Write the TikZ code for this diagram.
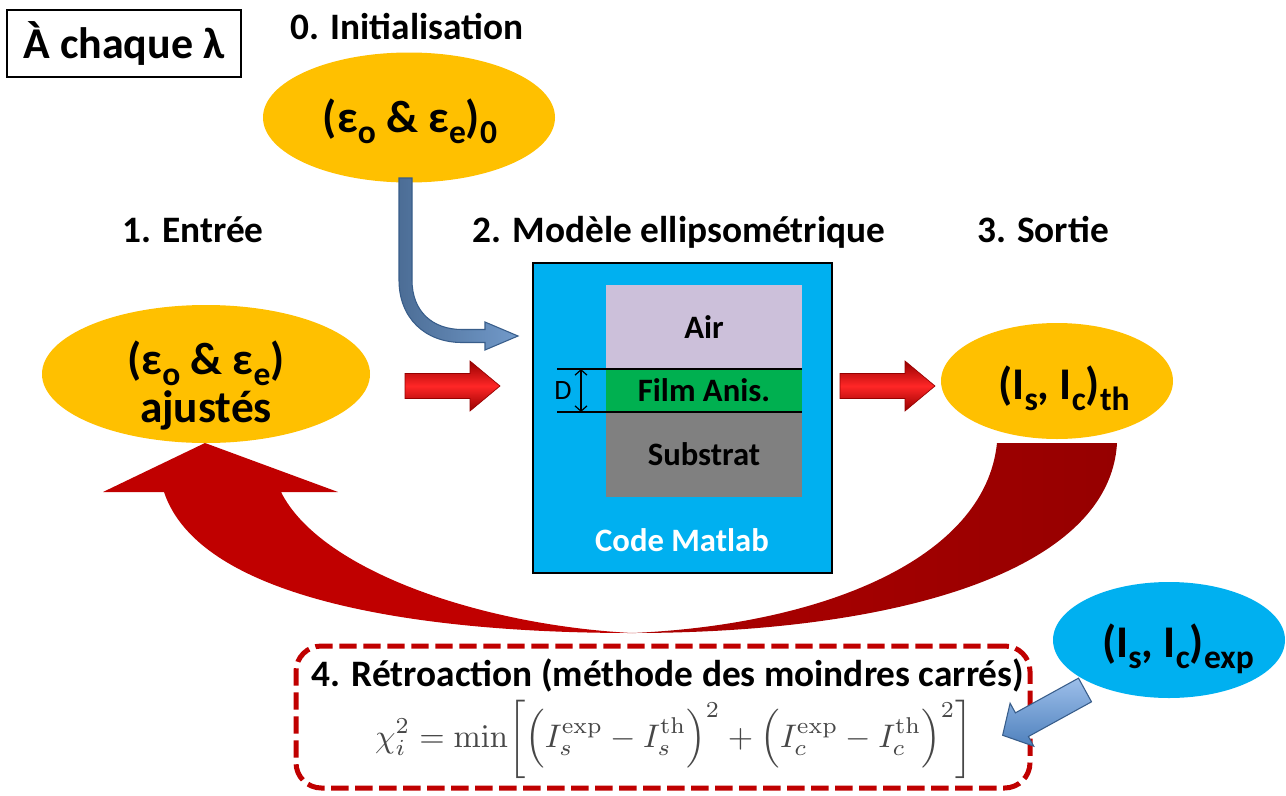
\documentclass[tikz,border=0pt]{standalone}
\usepackage{amsmath}
\usepackage{graphicx}
\usepackage[no-math]{fontspec}
\setmainfont{Carlito}
\usetikzlibrary{shapes.geometric,arrows.meta,calc}
\definecolor{orng}{HTML}{FFC000}
\definecolor{cyanb}{HTML}{00B0F0}
\definecolor{airc}{HTML}{CCC0DA}
\definecolor{filmc}{HTML}{00B050}
\definecolor{subc}{HTML}{808080}
\definecolor{dred}{HTML}{C00000}
\definecolor{ddred}{HTML}{960000}
\definecolor{bluea}{HTML}{4F81BD}
\definecolor{blueb}{HTML}{385D8A}
\definecolor{bluec}{HTML}{9DBFEA}
\newcommand\blockarr[6]{\path[#1] (#2) ++(0,#4) -- ++({#3-#6},0) -- ++(0,{#5-#4}) -- ++(#6,{-#5}) -- ++({-#6},{-#5}) -- ++(0,{#5-#4}) -- ++({#6-#3},0) -- cycle;}
\newcommand\sbs[1]{\raisebox{-0.24em}{\scalebox{0.74}{#1}}}
\begin{document}
\begin{tikzpicture}[x=0.75pt,y=-0.75pt,
  ellbase/.style={ellipse, inner sep=0pt, outer sep=0pt},
  elltext/.style={font=\fontsize{34}{40}\selectfont\bfseries, align=center, inner sep=0pt},
  head/.style={font=\fontsize{28}{32}\selectfont\bfseries, inner sep=0pt, anchor=base},
  layer/.style={rectangle, inner sep=0pt, outer sep=0pt, minimum width=147pt, font=\fontsize{24.5}{28}\selectfont\bfseries, anchor=north},
  redarr/.style={top color=ddred, bottom color=ddred, middle color=red!85!white, draw=ddred, line width=0.5pt},
  bluearr/.style={left color=blueb!90!white, right color=bluea!80!white, draw=blueb, line width=0.8pt},
  bluearrb/.style={top color=bluec, bottom color=bluea, draw=blueb, line width=0.8pt},
  dimarr/.style={{Straight Barb[length=4pt,width=9pt]}-{Straight Barb[length=4pt,width=9pt]}, line width=0.9pt},
  thinline/.style={line width=1.1pt}
]
\fill[white] (0,0) rectangle (1286,796);
\useasboundingbox (0,0) rectangle (1286,796);

% big feedback arrow
\fill[dred] (632,633) .. controls (420,633) and (200,600) .. (164,492) -- (103,492) -- (205,443) -- (338,492) -- (281,492) .. controls (320,570) and (480,625) .. (632,633) -- cycle;
\path[left color=dred!90!black, right color=ddred] (632,633) .. controls (820,625) and (985,560) .. (997,443) -- (1117,443) .. controls (1110,570) and (900,633) .. (632,633) -- cycle;

% corner box
\node[draw, line width=1pt, minimum width=175.5pt, minimum height=50.25pt, inner sep=0pt, font=\fontsize{33}{38}\selectfont\bfseries] (lam) at (124,43.5) {À chaque λ};

% headings
\node[head] (h0) at (407,40) {0. Initialisation};
\node[head] (h1) at (193,242) {1. Entrée};
\node[head] (h2) at (679,242) {2. Modèle ellipsométrique};
\node[head] (h3) at (1043,242) {3. Sortie};

% ellipses
\node[ellbase, fill=orng, minimum width=219pt, minimum height=97.5pt] (ini) at (409,117.5) {};
\node[elltext] (init) at (410,121) {(ε\sbs{o} \& ε\sbs{e})\sbs{0}};
\node[ellbase, fill=orng, minimum width=246pt, minimum height=103.5pt] (ent) at (206,374) {};
\node[elltext] (entt) at (206,386) {(ε\sbs{o} \& ε\sbs{e})\\[-4pt]ajustés};
\node[ellbase, fill=orng, minimum width=174pt, minimum height=87pt] (th) at (1057,381) {};
\node[elltext] (tht) at (1064,388) {(I\sbs{s}, I\sbs{c})\sbs{th}};
\node[ellbase, fill=cyanb, minimum width=174pt, minimum height=87pt] (ex) at (1169,640) {};
\node[elltext] (ext) at (1178,649) {(I\sbs{s}, I\sbs{c})\sbs{exp}};

% model box
\node[draw, fill=cyanb, line width=2.2pt, minimum width=224.25pt, minimum height=232.5pt, inner sep=0pt] (model) at (682.5,418) {};
\node[layer, fill=airc, minimum height=63pt] (air) at (704,285) {Air};
\node[layer, fill=filmc, minimum height=32.25pt] (film) at (air.south) {Film Anis.};
\node[layer, fill=subc, minimum height=63.75pt] (sub) at (film.south) {Substrat};
\draw[thinline] ($(film.north west)+(-49,0)$) -- (film.north east);
\draw[thinline] ($(film.south west)+(-49,0)$) -- (film.south east);
\draw[dimarr] ($(film.north west)+(-25,0)$) -- ($(film.south west)+(-25,0)$);
\node[font=\fontsize{21}{24}\selectfont, inner sep=0pt] (dl) at (563,391) {D};
\node[font=\fontsize{24.5}{28}\selectfont\bfseries, text=white, inner sep=0pt] (cm) at (682,540) {Code Matlab};

% straight red arrows
\blockarr{redarr}{405,386}{95}{12.5}{25}{30}
\blockarr{redarr}{840,386}{95}{12.5}{25}{30}

% curved blue arrow from initialisation
\path[bluearr] (399,178) -- (399,280) .. controls (399,318) and (425,342.5) .. (462,342.5) -- (485,342.5) -- (485,350) -- (518,336) -- (485,322) -- (485,329.5) -- (462,329.5) .. controls (433,329.5) and (412,312) .. (412,280) -- (412,178) -- cycle;

% feedback box
\node[draw=dred, line width=3.75pt, dash pattern=on 13pt off 5pt, rounded corners=19pt, minimum width=550.5pt, minimum height=106.5pt, inner sep=0pt] (fb) at (663,717) {};
\node[head] (h4) at (668,686) {4. Rétroaction (méthode des moindres carrés)};
\node[text=black!72, inner sep=0pt] (eq) at (674,739) {\scalebox{2.45}{$\displaystyle \chi_i^2=\min\biggl[\Bigl(I_s^{\mathrm{exp}}-I_s^{\mathrm{th}}\Bigr)^2+\Bigl(I_c^{\mathrm{exp}}-I_c^{\mathrm{th}}\Bigr)^2\biggr]$}};

% blue arrow from experimental values
\begin{scope}[shift={(1085,690)}, rotate=208.8]
\blockarr{bluearrb}{0,0}{94}{13.5}{24.5}{22}
\end{scope}
\end{tikzpicture}
\end{document}
